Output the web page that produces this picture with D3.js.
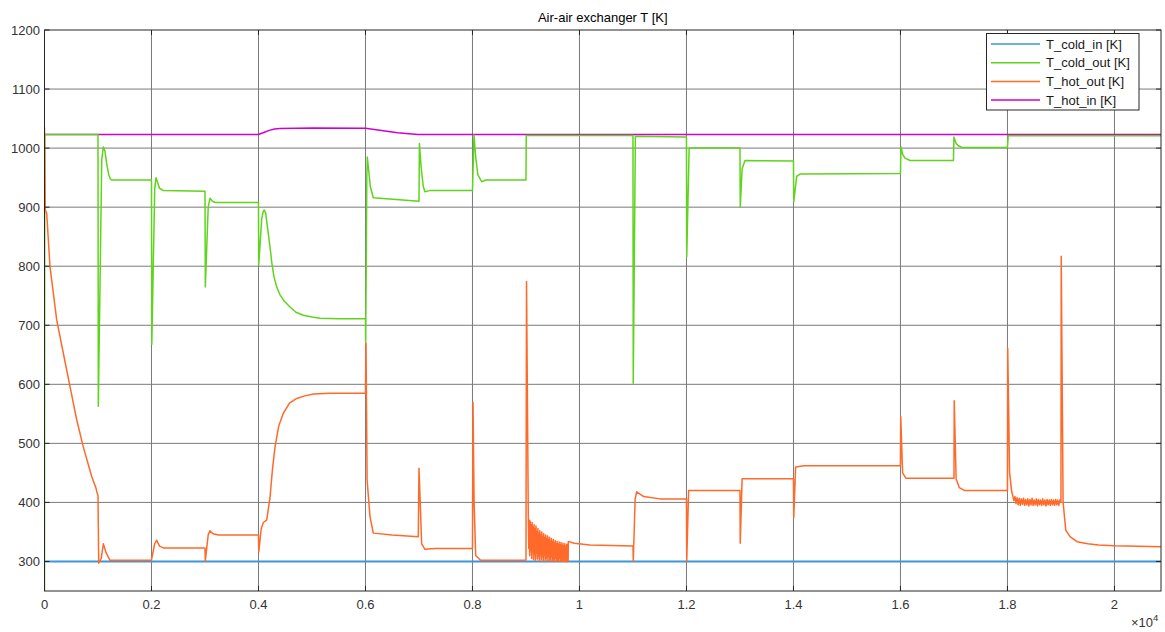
<!DOCTYPE html>
<html>
<head>
<meta charset="utf-8">
<script src="https://cdn.jsdelivr.net/npm/d3@7"></script>
<style>
  body { margin: 0; background: #ffffff; }
  text { font-family: "Liberation Sans", Arial, Helvetica, sans-serif; }
</style>
</head>
<body>
<svg id="chart" width="1165" height="632"></svg>
<script>
// Simulation time [s] and temperature [K] samples, as [t, T] pairs per signal.
const seriesNames = ["T_cold_in [K]", "T_cold_out [K]", "T_hot_out [K]", "T_hot_in [K]"];
const seriesColors = ["#3d96dc", "#5fd41c", "#ff6a2a", "#d000d0"];
const seriesWidths = [2, 1.5, 1.5, 1.5];

const coldIn = [[0, 300], [20870, 300]];

const hotIn = [
  [0, 1023], [4000, 1023], [4100, 1026.5], [4200, 1030], [4300, 1032.2], [4400, 1033], [5000, 1034],
  [6000, 1033.5], [6300, 1030], [6600, 1026], [6980, 1023], [20870, 1023]
];

const coldOut = [
  [0, 250], [5, 1023], [1000, 1023], [1006, 563], [1070, 980], [1100, 1002], [1130, 995],
  [1160, 975], [1200, 955], [1230, 948], [1256, 946], [2000, 946],
  [2006, 668], [2060, 930], [2084, 950], [2110, 943], [2150, 932], [2221, 928], [3000, 927],
  [3006, 765], [3060, 900], [3093, 915], [3140, 910], [3193, 908], [4000, 908],
  [4004, 802], [4060, 880], [4090, 893], [4109, 895], [4135, 890], [4165, 868], [4215, 833],
  [4250, 805], [4290, 782], [4340, 765], [4400, 752], [4480, 741], [4589, 731], [4700, 722],
  [4838, 717], [5000, 714], [5150, 712], [5500, 711], [6000, 711],
  [6004, 669], [6025, 950], [6034, 985], [6060, 962], [6090, 935], [6146, 916], [7000, 910],
  [7008, 1008], [7040, 968], [7080, 935], [7112, 926], [7200, 928], [8000, 928],
  [8028, 1022], [8060, 985], [8100, 955], [8172, 943], [8250, 946], [9000, 946],
  [9005, 1021.5], [11000, 1021.5],
  [11005, 602], [11045, 1020], [12000, 1019],
  [12005, 816], [12050, 1000], [13000, 1000],
  [13005, 900], [13040, 965], [13094, 979], [14000, 978],
  [14005, 909], [14060, 952], [14122, 956], [16000, 957],
  [16010, 1002], [16040, 990], [16084, 983], [16178, 979], [16990, 979],
  [17000, 1019], [17040, 1008], [17081, 1004], [17150, 1001], [18000, 1001],
  [18015, 1021], [20870, 1021]
];

const hotOut = [
  [0, 1035], [15, 895], [41, 890], [103, 799], [228, 709], [351, 653], [477, 596],
  [602, 540], [725, 494], [882, 444], [960, 425], [987, 415], [1000, 412],
  [1013, 297], [1060, 305], [1100, 330], [1150, 315], [1224, 302], [2000, 302],
  [2005, 305], [2060, 330], [2097, 336], [2150, 326], [2221, 323], [3000, 323],
  [3005, 300], [3060, 345], [3093, 352], [3150, 347], [3250, 345], [4000, 345],
  [4005, 316], [4050, 355], [4090, 366], [4153, 370], [4215, 408], [4260, 455], [4309, 494],
  [4380, 530], [4464, 551], [4580, 568], [4714, 576], [4850, 580], [5025, 583.6], [5336, 585], [6000, 585],
  [6010, 669], [6030, 438], [6084, 376], [6146, 348], [6500, 345], [6987, 342],
  [7000, 458], [7050, 330], [7112, 320.5], [7300, 322], [8000, 322],
  [8010, 569], [8030, 400], [8060, 310], [8150, 302], [9000, 302],
  [9010, 774], [9043, 381], [9052, 322], [9061, 370], [9070, 310], [9079, 368], [9088, 318],
  [9097, 362], [9106, 305], [9115, 366], [9124, 315], [9133, 358], [9142, 303], [9151, 362],
  [9160, 312], [9169, 355], [9178, 302], [9187, 360], [9196, 314], [9205, 350], [9214, 304],
  [9223, 356], [9232, 309], [9241, 348], [9250, 301], [9259, 352], [9268, 312], [9277, 345],
  [9286, 303], [9295, 350], [9304, 308], [9313, 342], [9322, 300], [9331, 347], [9340, 310],
  [9349, 340], [9358, 302], [9367, 345], [9376, 306], [9385, 338], [9394, 300], [9403, 343],
  [9412, 309], [9421, 336], [9430, 301], [9439, 341], [9448, 304], [9457, 334], [9466, 300],
  [9475, 339], [9484, 308], [9493, 333], [9502, 301], [9511, 337], [9520, 303], [9529, 331],
  [9538, 300], [9547, 335], [9556, 306], [9565, 330], [9574, 300], [9583, 334], [9592, 302],
  [9601, 329], [9610, 300], [9619, 333], [9628, 305], [9637, 328], [9646, 300], [9655, 332],
  [9664, 301], [9673, 327], [9682, 300], [9691, 331], [9700, 303], [9709, 326], [9718, 300],
  [9727, 330], [9736, 301], [9745, 325], [9754, 300], [9763, 329], [9772, 300], [9781, 324],
  [9788, 300],
  [9791, 334], [9900, 331], [10196, 328], [10600, 327], [11000, 326],
  [11006, 300], [11040, 405], [11069, 418], [11200, 410], [11505, 406], [12000, 406],
  [12005, 300], [12040, 420], [13000, 420],
  [13005, 331], [13040, 440], [14000, 440],
  [14005, 374], [14040, 460], [14200, 462], [16000, 462],
  [16005, 545], [16040, 450], [16100, 441], [17000, 441],
  [17005, 572], [17040, 440], [17100, 425], [17200, 420], [18000, 420],
  [18005, 661], [18040, 450], [18080, 418], [18100, 411], [18120, 403], [18140, 410],
  [18160, 398], [18180, 408], [18200, 396], [18220, 407], [18240, 395], [18260, 406],
  [18280, 397], [18300, 407], [18320, 395], [18340, 405], [18360, 396], [18380, 406],
  [18400, 394], [18420, 405], [18440, 396], [18460, 407], [18480, 395], [18500, 404],
  [18520, 396], [18540, 406], [18560, 394], [18580, 405], [18600, 396], [18620, 404],
  [18640, 395], [18660, 406], [18680, 396], [18700, 404], [18720, 394], [18740, 405],
  [18760, 396], [18780, 404], [18800, 395], [18820, 405], [18840, 396], [18860, 404],
  [18880, 395], [18900, 405], [18920, 396], [18940, 404], [18960, 395], [18980, 404],
  [19000, 400],
  [19005, 817], [19040, 400], [19090, 353], [19170, 342], [19300, 333.5],
  [19500, 330], [19700, 328], [20000, 326.5], [20870, 325]
];

const xTickValues = [0, 2000, 4000, 6000, 8000, 10000, 12000, 14000, 16000, 18000, 20000];
const xTickLabels = ["0", "0.2", "0.4", "0.6", "0.8", "1", "1.2", "1.4", "1.6", "1.8", "2"];
const yTickValues = [300, 400, 500, 600, 700, 800, 900, 1000, 1100, 1200];
const yTickLabels = ["300", "400", "500", "600", "700", "800", "900", "1000", "1100", "1200"];

const chartTitle = "Air-air exchanger T [K]";

// ---- layout ----
const svg = d3.select("#chart");
const plotL = 44.5, plotR = 1161, plotT = 30, plotB = 591;

const x = d3.scaleLinear().domain([0, 20870]).range([plotL, plotR]);
const y = d3.scaleLinear().domain([250, 1200]).range([plotB, plotT]);

// grid
const grid = svg.append("g").attr("stroke", "#7a7a7a").attr("stroke-width", 1);
grid.selectAll("line.vx").data(xTickValues.slice(1)).join("line")
  .attr("x1", d => x(d)).attr("x2", d => x(d)).attr("y1", plotT).attr("y2", plotB);
grid.selectAll("line.hy").data(yTickValues.slice(0, -1)).join("line")
  .attr("x1", plotL).attr("x2", plotR).attr("y1", d => y(d)).attr("y2", d => y(d));

// traces
svg.append("defs").append("clipPath").attr("id", "plotClip")
  .append("rect").attr("x", plotL).attr("y", plotT).attr("width", plotR - plotL).attr("height", plotB - plotT);

const line = d3.line().x(d => x(d[0])).y(d => y(d[1]));
const traces = svg.append("g").attr("clip-path", "url(#plotClip)")
  .attr("fill", "none").attr("stroke-linejoin", "round");

const drawOrder = [
  [coldIn, 0], [hotIn, 3], [coldOut, 1], [hotOut, 2]
];
drawOrder.forEach(([data, i]) => {
  traces.append("path").datum(data).attr("d", line)
    .attr("stroke", seriesColors[i]).attr("stroke-width", seriesWidths[i]);
});

// axes box and inward ticks
const axisColor = "#262626";
const tickLen = 5;
svg.append("rect").attr("x", plotL).attr("y", plotT).attr("width", plotR - plotL).attr("height", plotB - plotT)
  .attr("fill", "none").attr("stroke", axisColor).attr("stroke-width", 1);

const ticks = svg.append("g").attr("stroke", axisColor).attr("stroke-width", 1);
xTickValues.forEach(v => {
  ticks.append("line").attr("x1", x(v)).attr("x2", x(v)).attr("y1", plotB).attr("y2", plotB - tickLen);
  ticks.append("line").attr("x1", x(v)).attr("x2", x(v)).attr("y1", plotT).attr("y2", plotT + tickLen);
});
yTickValues.forEach(v => {
  ticks.append("line").attr("x1", plotL).attr("x2", plotL + tickLen).attr("y1", y(v)).attr("y2", y(v));
  ticks.append("line").attr("x1", plotR).attr("x2", plotR - tickLen).attr("y1", y(v)).attr("y2", y(v));
});

// tick labels
const labelColor = "#333333";
svg.append("g").selectAll("text").data(xTickValues).join("text")
  .attr("x", d => x(d)).attr("y", 609).attr("text-anchor", "middle")
  .attr("font-size", 13).attr("fill", labelColor)
  .text((d, i) => xTickLabels[i]);

svg.append("g").selectAll("text").data(yTickValues).join("text")
  .attr("x", 40).attr("y", d => y(d) + 4.5).attr("text-anchor", "end")
  .attr("font-size", 13).attr("fill", labelColor)
  .text((d, i) => yTickLabels[i]);

// exponent marker
const expo = svg.append("text").attr("x", 1131).attr("y", 627)
  .attr("font-size", 13).attr("fill", labelColor);
expo.append("tspan").text("\u00d710");
expo.append("tspan").attr("font-size", 9.5).attr("dy", -6).text("4");

// title
svg.append("text").attr("x", (plotL + plotR) / 2).attr("y", 21.5).attr("text-anchor", "middle")
  .attr("font-size", 13).attr("fill", "#000000").text(chartTitle);

// legend
const lg = svg.append("g");
lg.append("rect").attr("x", 986.5).attr("y", 33.5).attr("width", 152.5).attr("height", 76.5)
  .attr("fill", "#ffffff").attr("stroke", axisColor).attr("stroke-width", 1);
seriesNames.forEach((name, i) => {
  const ly = 44 + i * 18.7;
  lg.append("line").attr("x1", 991).attr("x2", 1040).attr("y1", ly).attr("y2", ly)
    .attr("stroke", seriesColors[i]).attr("stroke-width", 1.5);
  lg.append("text").attr("x", 1046).attr("y", ly + 4.5).attr("font-size", 13)
    .attr("fill", "#1a1a1a").text(name);
});
</script>
</body>
</html>
